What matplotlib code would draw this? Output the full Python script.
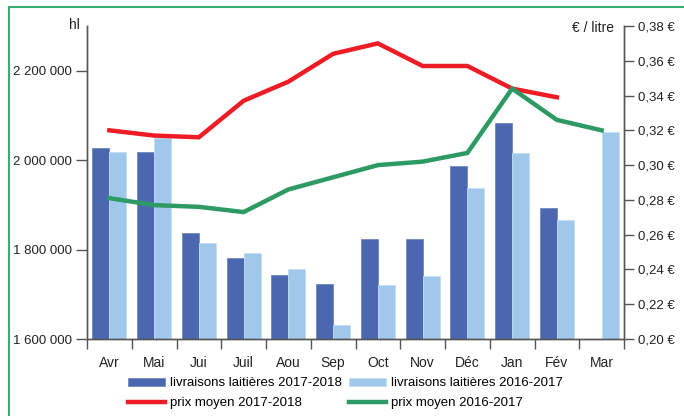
import numpy as np
import matplotlib
matplotlib.use("Agg")
import matplotlib.pyplot as plt
from matplotlib.patches import Rectangle
from matplotlib.ticker import FuncFormatter

plt.rcParams['font.family'] = ['Liberation Sans', 'DejaVu Sans']

months = ["Avr", "Mai", "Jui", "Juil", "Aou", "Sep", "Oct", "Nov", "Déc", "Jan", "Fév", "Mar"]
livr_2017_2018 = [2028000, 2018000, 1838000, 1782000, 1744000, 1722000,
                  1823000, 1823000, 1988000, 2083000, 1893000, np.nan]
livr_2016_2017 = [2018000, 2049000, 1814000, 1792000, 1757000, 1632000,
                  1720000, 1741000, 1937000, 2016000, 1866000, 2064000]
prix_2017_2018 = [0.320, 0.317, 0.316, 0.337, 0.348, 0.364,
                  0.370, 0.357, 0.357, 0.344, 0.339]
prix_2016_2017 = [0.281, 0.277, 0.276, 0.273, 0.286, 0.293,
                  0.300, 0.302, 0.307, 0.344, 0.326, 0.320]

dark_blue = "#4A67B0"
light_blue = "#9FC8EA"
red = "#EE1C25"
green = "#2E9A63"
axis_col = "#555555"
txt_col = "#222222"

fig = plt.figure(figsize=(6.84, 4.16), dpi=100)
# green frame around the whole chart
fig.patches.append(Rectangle((9 / 684, -0.05), 1.0, 1 - 7 / 416 + 0.05, transform=fig.transFigure,
                             fill=False, edgecolor="#3AAE6E", linewidth=1.5))

ax = fig.add_axes([87 / 684, 1 - 339 / 416, (624 - 87) / 684, (339 - 26) / 416])
ax2 = ax.twinx()

x = np.arange(len(months))
w = 0.38
ax.bar(x - w / 2, livr_2017_2018, w, color=dark_blue, edgecolor="#6F88C6", linewidth=0.6,
       label="livraisons laitières 2017-2018")
ax.bar(x + w / 2, livr_2016_2017, w, color=light_blue, edgecolor="#C4DDF3", linewidth=0.6,
       label="livraisons laitières 2016-2017")

ax2.plot(x[:len(prix_2017_2018)], prix_2017_2018, color=red, lw=3.2, solid_joinstyle="miter",
         label="prix moyen 2017-2018")
ax2.plot(x, prix_2016_2017, color=green, lw=3.2, solid_joinstyle="miter",
         label="prix moyen 2016-2017")

ax.set_xlim(-0.5, len(months) - 0.5)
ax.set_ylim(1600000, 2300000)
ax2.set_ylim(0.20, 0.38)

ax.set_yticks([1600000, 1800000, 2000000, 2200000])
ax.yaxis.set_major_formatter(FuncFormatter(lambda v, p: f"{int(v):,}".replace(",", " ")))
ax2.set_yticks(np.arange(0.20, 0.381, 0.02))
ax2.yaxis.set_major_formatter(FuncFormatter(lambda v, p: f"{v:.2f} €".replace(".", ",")))

ax.set_xticks(x)
ax.set_xticklabels(months)
ax.set_xticks(np.arange(-0.5, len(months), 1), minor=True)
ax.tick_params(axis="x", which="major", length=0, pad=12, labelsize=10, colors=txt_col)
ax.tick_params(axis="x", which="minor", length=7, width=1, color=axis_col, direction="out")
ax.tick_params(axis="y", length=8, width=1, color=axis_col, labelsize=9.5, labelcolor=txt_col, pad=3)
ax2.tick_params(axis="y", length=7, width=1, color=axis_col, labelsize=9.5, labelcolor=txt_col, pad=3)

for a in (ax, ax2):
    a.spines["top"].set_visible(False)
    for s in ("left", "right", "bottom"):
        a.spines[s].set_color(axis_col)
        a.spines[s].set_linewidth(1)

fig.text(80 / 684, 1 - 25 / 416, "hl", ha="right", va="center", fontsize=10, color=txt_col)
fig.text(614 / 684, 1 - 28 / 416, "€ / litre", ha="right", va="center", fontsize=10, color=txt_col)

h1, l1 = ax.get_legend_handles_labels()
h2, l2 = ax2.get_legend_handles_labels()
handles = [h1[0], h2[0], h1[1], h2[1]]
labels = [l1[0], l2[0], l1[1], l2[1]]
fig.legend(handles, labels, ncol=2, loc="upper left", bbox_to_anchor=(119 / 684, 1 - 368 / 416),
           frameon=False, fontsize=9.5, handlelength=2.8, handleheight=0.55, handletextpad=0.4,
           columnspacing=0.5, labelspacing=0.6, borderpad=0.2)

fig.savefig("out.png", dpi=100)
